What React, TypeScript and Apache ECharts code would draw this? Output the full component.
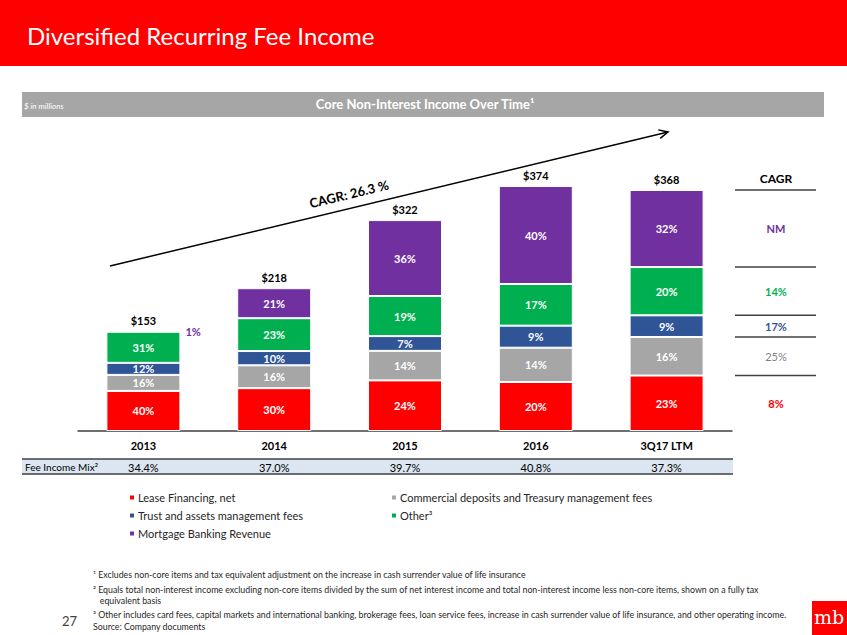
import React, { useEffect, useRef } from "react";
import * as echarts from "echarts";

const categories = ["2013", "2014", "2015", "2016", "3Q17 LTM"];
const totals = [153, 218, 322, 374, 368];
const leasePct = [40, 30, 24, 20, 23];
const commercialPct = [16, 16, 14, 14, 16];
const trustPct = [12, 10, 7, 9, 9];
const otherPct = [31, 23, 19, 17, 20];
const mortgagePct = [1, 21, 36, 40, 32];
const feeIncomeMix = ["34.4%", "37.0%", "39.7%", "40.8%", "37.3%"];
const seriesNames = [
  "Lease Financing, net",
  "Commercial deposits and Treasury management fees",
  "Trust and assets management fees",
  "Other³",
  "Mortgage Banking Revenue",
];
const cagrLabels = ["8%", "25%", "17%", "14%", "NM"];
const footnotes = [
  "¹ Excludes non-core items and tax equivalent adjustment on the increase in cash surrender value of life insurance",
  "² Equals total non-interest income excluding non-core items divided by the sum of net interest income and total non-interest income less non-core items, shown on a fully tax",
  "   equivalent basis",
  "³ Other includes card fees, capital markets and international banking, brokerage fees, loan service fees, increase in cash surrender value of life insurance, and other operating income.",
  "Source: Company documents",
];

const COLORS = ["#FF0000", "#A6A6A6", "#2F5597", "#00B050", "#7030A0"];
const CAGR_COLORS = ["#FF0000", "#7F7F7F", "#2F5597", "#00B050", "#7030A0"];
const FONT = "Lato, 'Open Sans', sans-serif";

export default function App() {
  const ref = useRef<HTMLDivElement>(null);
  useEffect(() => {
    if (!ref.current) return;
    const chart = echarts.init(ref.current, null, { renderer: "svg" });
    const pcts = [leasePct, commercialPct, trustPct, otherPct, mortgagePct];
    const values = pcts.map((p) => p.map((v, i) => (v * totals[i]) / 100));

    const series: any[] = pcts.map((p, s) => ({
      name: seriesNames[s],
      type: "bar",
      stack: "total",
      barWidth: 74,
      itemStyle: { color: COLORS[s], borderColor: "#ffffff", borderWidth: 1 },
      label: {
        show: true,
        position: "inside",
        color: "#ffffff",
        fontFamily: FONT,
        fontSize: 11,
        fontWeight: "bold",
        formatter: (prm: any) => `${p[prm.dataIndex]}%`,
      },
      data: values[s].map((v, i) =>
        s === 4 && i === 0
          ? {
              value: v,
              label: {
                position: "right",
                distance: 5,
                color: "#7030A0",
                fontSize: 11,
                fontWeight: "bold",
              },
            }
          : v
      ),
    }));
    series.push({
      name: "total",
      type: "bar",
      stack: "total",
      barWidth: 74,
      itemStyle: { color: "transparent" },
      label: {
        show: true,
        position: "top",
        distance: 5,
        color: "#000000",
        fontFamily: FONT,
        fontSize: 11,
        fontWeight: "bold",
        formatter: (prm: any) => `$${totals[prm.dataIndex]}`,
      },
      data: totals.map(() => 0),
    });

    chart.setOption({
      animation: false,
      textStyle: { fontFamily: FONT },
      grid: { left: 78, right: 115, top: 169, bottom: 204 },
      xAxis: {
        type: "category",
        data: categories,
        axisLine: { lineStyle: { color: "#404040", width: 1.5 } },
        axisTick: { show: false },
        axisLabel: {
          color: "#000000",
          fontFamily: FONT,
          fontSize: 11,
          fontWeight: "bold",
          margin: 9,
        },
      },
      yAxis: { type: "value", min: 0, max: 400, show: false },
      legend: [
        {
          data: [seriesNames[0], seriesNames[2], seriesNames[4]],
          orient: "vertical",
          left: 128,
          top: 491,
          padding: 0,
          itemWidth: 6,
          itemHeight: 6,
          itemGap: 5,
          icon: "rect",
          selectedMode: false,
          textStyle: { color: "#262626", fontFamily: FONT, fontSize: 11, lineHeight: 13, padding: [0, 0, 0, -2] },
        },
        {
          data: [seriesNames[1], seriesNames[3]],
          orient: "vertical",
          left: 390,
          top: 491,
          padding: 0,
          itemWidth: 6,
          itemHeight: 6,
          itemGap: 5,
          icon: "rect",
          selectedMode: false,
          textStyle: { color: "#262626", fontFamily: FONT, fontSize: 11, lineHeight: 13, padding: [0, 0, 0, -2] },
        },
      ],
      series,
    });

    // CAGR column positioned from the 3Q17 stack via the y scale
    const last = categories.length - 1;
    const bounds = [0];
    let cum = 0;
    values.forEach((vals) => {
      cum += vals[last];
      bounds.push(cum);
    });
    const yPix = bounds.map((v) => chart.convertToPixel({ yAxisIndex: 0 }, v) as number);
    const xPix = categories.map((_, i) => chart.convertToPixel({ xAxisIndex: 0 }, i) as number);

    const graphics: any[] = [];
    const txt = (text: string, x: number, y: number, o: any = {}) => ({
      type: "text",
      x,
      y,
      rotation: o.rotation || 0,
      silent: true,
      style: {
        text,
        fill: o.fill || "#000000",
        fontFamily: o.fontFamily || FONT,
        fontSize: o.fontSize || 11,
        fontWeight: o.fontWeight || "normal",
        fontStyle: o.fontStyle || "normal",
        textAlign: o.align || "left",
        textVerticalAlign: "middle",
      },
    });

    // header
    graphics.push({ type: "rect", shape: { x: 0, y: 0, width: 847, height: 66 }, style: { fill: "#FF0000" }, silent: true });
    graphics.push(txt("Diversified Recurring Fee Income", 27, 35, { fill: "#ffffff", fontSize: 24 }));
    // gray sub header
    graphics.push({ type: "rect", shape: { x: 22, y: 92, width: 802, height: 25 }, style: { fill: "#A6A6A6" }, silent: true });
    graphics.push(txt("$ in millions", 24, 106, { fill: "#ffffff", fontSize: 8, fontStyle: "italic" }));
    graphics.push(txt("Core Non-Interest Income Over Time¹", 425, 104, { fill: "#ffffff", fontSize: 13, fontWeight: "bold", align: "center" }));

    // CAGR arrow
    const ax1 = 110, ay1 = 266, ax2 = 668, ay2 = 132;
    graphics.push({ type: "line", shape: { x1: ax1, y1: ay1, x2: ax2, y2: ay2 }, style: { stroke: "#000000", lineWidth: 1.5 }, silent: true });
    const ang = Math.atan2(ay2 - ay1, ax2 - ax1);
    const hl = 10;
    const p1 = [ax2 - hl * Math.cos(ang - 0.45), ay2 - hl * Math.sin(ang - 0.45)];
    const p2 = [ax2 - hl * Math.cos(ang + 0.45), ay2 - hl * Math.sin(ang + 0.45)];
    graphics.push({ type: "polyline", shape: { points: [p1, [ax2, ay2], p2] }, style: { stroke: "#000000", lineWidth: 1.5, fill: null }, silent: true });
    graphics.push(txt("CAGR: 26.3 %", 349, 194, { fontSize: 13, fontWeight: "bold", align: "center", rotation: -ang }));

    // CAGR column
    const cx1 = 735, cx2 = 816, ccx = 776;
    graphics.push(txt("CAGR", ccx, yPix[5] - 11, { fontSize: 12, fontWeight: "bold", align: "center" }));
    for (let k = 1; k <= 5; k++) {
      graphics.push({ type: "line", shape: { x1: cx1, y1: yPix[k], x2: cx2, y2: yPix[k] }, style: { stroke: "#404040", lineWidth: 1.5 }, silent: true });
    }
    for (let s = 0; s < 5; s++) {
      graphics.push(
        txt(cagrLabels[s], ccx, (yPix[s] + yPix[s + 1]) / 2, {
          fill: CAGR_COLORS[s],
          fontSize: 11,
          fontWeight: s === 1 ? "normal" : "bold",
          align: "center",
        })
      );
    }

    // Fee income mix row
    graphics.push({ type: "rect", shape: { x: 22, y: 459, width: 711, height: 15 }, style: { fill: "#DCE6F2" }, silent: true });
    graphics.push({ type: "line", shape: { x1: 22, y1: 459, x2: 733, y2: 459 }, style: { stroke: "#404040", lineWidth: 1.5 }, silent: true });
    graphics.push({ type: "line", shape: { x1: 22, y1: 474, x2: 733, y2: 474 }, style: { stroke: "#404040", lineWidth: 1.5 }, silent: true });
    graphics.push(txt("Fee Income Mix²", 25, 467, { fontSize: 10 }));
    feeIncomeMix.forEach((m, i) => graphics.push(txt(m, xPix[i], 467, { fontSize: 11, align: "center" })));

    // footnotes
    const fy = [574, 589, 600, 614, 626];
    footnotes.forEach((f, i) => graphics.push(txt(f, 93, fy[i], { fontSize: 8.8, fill: "#262626" })));
    graphics.push(txt("27", 62, 621, { fontSize: 13, fill: "#404040" }));

    // logo
    graphics.push({ type: "rect", shape: { x: 812, y: 601, width: 35, height: 34 }, style: { fill: "#FF0000" }, silent: true });
    graphics.push(txt("mb", 829, 617, { fontSize: 19, fill: "#ffffff", align: "center", fontFamily: "'DejaVu Serif', 'Liberation Serif', serif" }));

    chart.setOption({ graphic: graphics });

    return () => chart.dispose();
  }, []);
  return (
    <div
      ref={ref}
      style={{ position: "absolute", left: 0, top: 0, width: 847, height: 635, background: "#ffffff" }}
    />
  );
}
